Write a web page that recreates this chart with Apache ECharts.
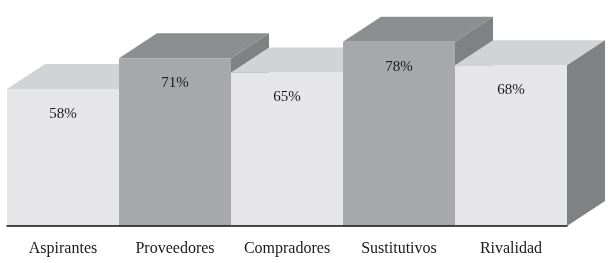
<!DOCTYPE html>
<html>
<head>
<meta charset="utf-8">
<script src="https://cdn.jsdelivr.net/npm/echarts@6/dist/echarts.min.js"></script>
<style>html,body{margin:0;padding:0;background:#fff}#c{width:610px;height:263px}</style>
</head>
<body>
<div id="c"></div>
<script>
var categories = ['Aspirantes', 'Proveedores', 'Compradores', 'Sustitutivos', 'Rivalidad'];
var values = [58, 71, 65, 78, 68];

var DX = 38, DY = -25;
var palette = [
  {front: '#e6e6e8', top: '#d2d3d5', side: '#808183'},
  {front: '#a7a8ab', top: '#8d8e90', side: '#808183'}
];
var FONT = '"Liberation Serif", "DejaVu Serif", serif';

var chart = echarts.init(document.getElementById('c'), null, {renderer: 'canvas'});
chart.setOption({
  animation: false,
  backgroundColor: '#fff',
  grid: {left: 7, right: 43, top: 37, bottom: 37},
  xAxis: {
    type: 'category',
    data: categories,
    axisLine: {lineStyle: {color: '#111', width: 1.5}},
    axisTick: {show: false},
    axisLabel: {interval: 0, hideOverlap: false, fontFamily: FONT, fontSize: 16, color: '#1a1a1a', margin: 15},
    z: 10
  },
  yAxis: {
    type: 'value', min: 0, max: 80,
    show: false, splitLine: {show: false}
  },
  series: [{
    type: 'custom',
    clip: false,
    data: values.map(function (v, i) { return [i, v]; }),
    renderItem: function (params, api) {
      var i = api.value(0), v = api.value(1);
      var top = api.coord([i, v]);
      var base = api.coord([i, 0]);
      var w = api.size([1, 0])[0];
      var x0 = top[0] - w / 2, x1 = top[0] + w / 2;
      var yt = top[1], yb = base[1];
      var c = palette[i % 2];
      return {
        type: 'group',
        children: [
          {type: 'polygon', shape: {points: [[x0, yt], [x1, yt], [x1 + DX, yt + DY], [x0 + DX, yt + DY]]},
            style: {fill: c.top}},
          {type: 'polygon', shape: {points: [[x1, yt], [x1 + DX, yt + DY], [x1 + DX, yb + DY], [x1, yb]]},
            style: {fill: c.side}},
          {type: 'rect', shape: {x: x0, y: yt, width: w, height: yb - yt},
            style: {fill: c.front}},
          {type: 'text', x: top[0], y: yt + 25,
            style: {text: v + '%', fill: '#1a1a1a', font: '15px ' + FONT, align: 'center', verticalAlign: 'middle'}}
        ]
      };
    }
  }]
});
</script>
</body>
</html>
